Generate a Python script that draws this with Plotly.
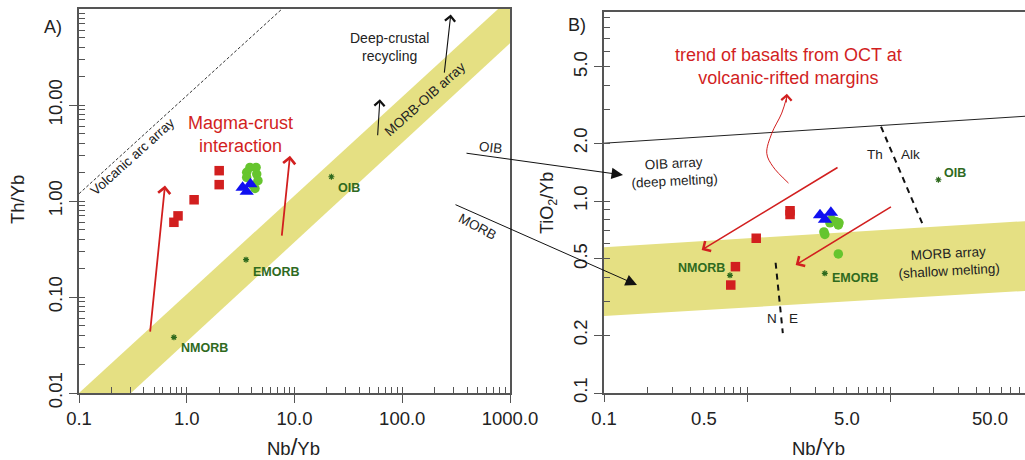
import numpy as np
import plotly.graph_objects as go

# ---------------- data ----------------
# Panel A: Th/Yb vs Nb/Yb
A_SQ_X = [0.76, 0.83, 1.17, 2.0, 2.0]
A_SQ_Y = [0.60, 0.70, 1.03, 1.48, 2.07]
A_TRI_X = [3.3, 3.9, 3.6]
A_TRI_Y = [1.38, 1.50, 1.25]
A_CIR_X = [3.86, 4.40, 3.60, 4.46, 4.58, 4.12, 3.60, 4.30]
A_CIR_Y = [2.24, 2.24, 1.99, 1.91, 1.63, 1.45, 1.76, 1.35]
A_REF_NAMES = ["NMORB", "EMORB", "OIB"]
A_REF_X = [0.76, 3.55, 22.0]
A_REF_Y = [0.038, 0.245, 1.79]
A_BAND_X = [0.1, 775, 1000, 1000, 0.304, 0.1]
A_BAND_Y = [0.01, 100, 100, 44, 0.01, 0.01]
A_ARC_X = [0.1, 7.65]
A_ARC_Y = [1.19, 100]

# Panel B: TiO2/Yb vs Nb/Yb
B_SQ_X = [0.77, 0.83, 1.16, 2.0, 2.0]
B_SQ_Y = [0.365, 0.455, 0.64, 0.85, 0.89]
B_TRI_X = [3.24, 3.86, 3.51]
B_TRI_Y = [0.845, 0.87, 0.80]
B_CIR_X = [3.90, 4.35, 4.40, 3.80, 3.45, 3.50, 4.20, 4.35]
B_CIR_Y = [0.80, 0.75, 0.77, 0.77, 0.69, 0.67, 0.78, 0.53]
B_REF_NAMES = ["NMORB", "EMORB", "OIB"]
B_REF_X = [0.76, 3.5, 21.8]
B_REF_Y = [0.41, 0.42, 1.29]
B_BAND_X = [0.1, 100, 100, 0.1, 0.1]
B_BAND_Y = [0.575, 0.79, 0.342, 0.252, 0.575]
B_OIBLINE_X = [0.1, 100]
B_OIBLINE_Y = [2.0, 2.78]
B_THALK_X = [8.65, 17.3]
B_THALK_Y = [2.44, 0.726]
B_NE_X = [1.585, 1.78]
B_NE_Y = [0.477, 0.205]
B_CURVE_X = [1.95, 1.52, 1.375, 1.49, 1.75, 1.90]
B_CURVE_Y = [1.24, 1.51, 1.77, 2.25, 2.87, 3.50]

# ticks
A_X_TICKS = [0.1, 1, 10, 100, 1000]
A_X_TEXT = ["0.1", "1.0", "10.0", "100.0", "1000.0"]
A_Y_TICKS = [0.01, 0.1, 1, 10]
A_Y_TEXT = ["0.01", "0.10", "1.00", "10.00"]
B_X_LABELS = [0.1, 0.5, 5, 50]
B_X_TEXT = ["0.1", "0.5", "5.0", "50.0"]
B_X_MAJOR = [0.1, 1, 10]
B_Y_TICKS = [0.1, 0.2, 0.5, 1, 2, 5]
B_Y_TEXT = ["0.1", "0.2", "0.5", "1.0", "2.0", "5.0"]


def all_ticks(lo_exp, hi_exp):
    out = []
    for e in range(lo_exp, hi_exp):
        for m in range(1, 10):
            out.append(m * 10.0 ** e)
    out.append(10.0 ** hi_exp)
    return out


RED = "#d21f1f"
BLUE = "#1010f0"
GREEN = "#66c52e"
DKGREEN = "#2f6a1e"
BAND = "#e5e083"
AXC = "#555555"
FONT = "Liberation Sans, Arial, sans-serif"

fig = go.Figure()

# ---- Panel A ----
fig.add_trace(go.Scatter(x=A_BAND_X, y=A_BAND_Y, fill="toself", fillcolor=BAND,
                         line=dict(width=0), mode="lines", hoverinfo="skip",
                         xaxis="x", yaxis="y"))
fig.add_trace(go.Scatter(x=A_ARC_X, y=A_ARC_Y, mode="lines",
                         line=dict(color="#333333", width=1, dash="3px,2px"),
                         xaxis="x", yaxis="y"))
fig.add_trace(go.Scatter(x=A_SQ_X, y=A_SQ_Y, mode="markers",
                         marker=dict(symbol="square", size=9.5, color=RED),
                         xaxis="x", yaxis="y"))
fig.add_trace(go.Scatter(x=A_CIR_X, y=A_CIR_Y, mode="markers",
                         marker=dict(symbol="circle", size=9.5, color=GREEN),
                         xaxis="x", yaxis="y"))
fig.add_trace(go.Scatter(x=A_TRI_X, y=A_TRI_Y, mode="markers",
                         marker=dict(symbol="triangle-up", size=12.5, color=BLUE),
                         xaxis="x", yaxis="y"))
fig.add_trace(go.Scatter(x=A_REF_X, y=A_REF_Y, mode="markers",
                         marker=dict(symbol="asterisk", size=5,
                                     line=dict(color=DKGREEN, width=1.2)),
                         xaxis="x", yaxis="y"))

# ---- Panel B ----
fig.add_trace(go.Scatter(x=B_BAND_X, y=B_BAND_Y, fill="toself", fillcolor=BAND,
                         line=dict(width=0), mode="lines", hoverinfo="skip",
                         xaxis="x2", yaxis="y2"))
fig.add_trace(go.Scatter(x=B_OIBLINE_X, y=B_OIBLINE_Y, mode="lines",
                         line=dict(color="#222222", width=1),
                         xaxis="x2", yaxis="y2"))
fig.add_trace(go.Scatter(x=B_THALK_X, y=B_THALK_Y, mode="lines",
                         line=dict(color="#111111", width=2, dash="6px,5px"),
                         xaxis="x2", yaxis="y2"))
fig.add_trace(go.Scatter(x=B_NE_X, y=B_NE_Y, mode="lines",
                         line=dict(color="#111111", width=2, dash="6px,5px"),
                         xaxis="x2", yaxis="y2"))
fig.add_trace(go.Scatter(x=B_CURVE_X, y=B_CURVE_Y, mode="lines",
                         line=dict(color=RED, width=1, shape="spline"),
                         xaxis="x2", yaxis="y2"))
fig.add_trace(go.Scatter(x=B_SQ_X, y=B_SQ_Y, mode="markers",
                         marker=dict(symbol="square", size=9.5, color=RED),
                         xaxis="x2", yaxis="y2"))
fig.add_trace(go.Scatter(x=B_CIR_X, y=B_CIR_Y, mode="markers",
                         marker=dict(symbol="circle", size=9.5, color=GREEN),
                         xaxis="x2", yaxis="y2"))
fig.add_trace(go.Scatter(x=B_TRI_X, y=B_TRI_Y, mode="markers",
                         marker=dict(symbol="triangle-up", size=12.5, color=BLUE),
                         xaxis="x2", yaxis="y2"))
fig.add_trace(go.Scatter(x=B_REF_X, y=B_REF_Y, mode="markers",
                         marker=dict(symbol="asterisk", size=5,
                                     line=dict(color=DKGREEN, width=1.2)),
                         xaxis="x2", yaxis="y2"))

# invisible traces so that the overlay tick axes are drawn
for xa, ya in [("x3", "y2"), ("x4", "y2"), ("x5", "y"), ("x", "y3"), ("x2", "y4")]:
    fig.add_trace(go.Scatter(x=[1], y=[1], mode="markers", marker=dict(opacity=0),
                             hoverinfo="skip", xaxis=xa, yaxis=ya))

W, H = 1025, 460


def px(x):
    return x / W


def py(y):
    return 1 - y / H


XA_DOM = [px(79), px(510)]
YA_DOM = [py(393), py(9)]
XB_DOM = [px(604), 1.0]
YB_DOM = [py(393), py(11.5)]
XA_RANGE = [-1, 3]
YA_RANGE = [-2, 2]
XB_RANGE = [-1, 1.944]
YB_RANGE = [-1, 0.987]

tickfont = dict(family=FONT, size=18.5, color="#222222")
axis_common = dict(type="log", showgrid=False, zeroline=False, showline=True,
                   linecolor=AXC, linewidth=1.5, ticks="outside", ticklen=8,
                   tickcolor=AXC, tickwidth=1.2, tickfont=tickfont, automargin=False)
overlay_common = dict(type="log", showgrid=False, zeroline=False, showline=False,
                      showticklabels=False, tickmode="array", ticks="inside",
                      ticklen=6, tickcolor=AXC, tickwidth=1, automargin=False)

fig.update_layout(
    width=W, height=H, margin=dict(l=0, r=0, t=0, b=0, autoexpand=False),
    paper_bgcolor="white", plot_bgcolor="white", showlegend=False,
    font=dict(family=FONT, color="#222222"),
    xaxis=dict(axis_common, range=XA_RANGE, domain=XA_DOM, anchor="y",
               mirror=True, tickmode="array", tickvals=A_X_TICKS, ticktext=A_X_TEXT),
    yaxis=dict(axis_common, range=YA_RANGE, domain=YA_DOM, anchor="x",
               mirror=True, tickmode="array", tickvals=A_Y_TICKS, ticktext=A_Y_TEXT,
               tickangle=-90),
    xaxis5=dict(overlay_common, range=XA_RANGE, domain=XA_DOM, anchor="y",
                overlaying="x", side="bottom", tickvals=all_ticks(-1, 3)),
    yaxis3=dict(overlay_common, range=YA_RANGE, domain=YA_DOM, anchor="x",
                overlaying="y", side="left", tickvals=all_ticks(-2, 2)),
    xaxis2=dict(axis_common, range=XB_RANGE, domain=XB_DOM, anchor="y2",
                mirror=True, tickmode="array", tickvals=B_X_LABELS, ticktext=B_X_TEXT,
                tickcolor="rgba(0,0,0,0)"),
    xaxis3=dict(type="log", range=XB_RANGE, domain=XB_DOM, anchor="y2",
                overlaying="x2", side="bottom", showgrid=False, zeroline=False,
                showline=False, showticklabels=False, tickmode="array",
                tickvals=B_X_MAJOR, ticks="outside", ticklen=8, tickcolor=AXC,
                tickwidth=1.2, automargin=False),
    xaxis4=dict(overlay_common, range=XB_RANGE, domain=XB_DOM, anchor="y2",
                overlaying="x2", side="bottom", tickvals=all_ticks(-1, 2)),
    yaxis2=dict(axis_common, range=YB_RANGE, domain=YB_DOM, anchor="x2",
                mirror=False, tickmode="array", tickvals=B_Y_TICKS, ticktext=B_Y_TEXT,
                tickangle=-90),
    yaxis4=dict(overlay_common, range=YB_RANGE, domain=YB_DOM, anchor="x2",
                overlaying="y2", side="left", tickvals=all_ticks(-1, 1)),
)

ann = []


def text(x, y, t, size=13, color="#222222", angle=0, **kw):
    d = dict(x=px(x), y=py(y), xref="paper", yref="paper", text=t, showarrow=False,
             xanchor="center", yanchor="middle",
             textangle=angle, font=dict(family=FONT, size=size, color=color))
    d.update(kw)
    ann.append(d)


# panel letters and axis titles
text(53, 27, "A)", size=18)
text(577, 25, "B)", size=18)
text(18, 200, "Th/Yb", size=18.5, angle=-90)
text(293, 446, "Nb<span style='font-size:24px'>/</span>Yb", size=18.5)
text(818, 446, "Nb<span style='font-size:24px'>/</span>Yb", size=18.5)
text(548, 203, "TiO<sub>2</sub>/Yb", size=18, angle=-90)

# panel A labels
text(133, 157, "Volcanic arc array", size=13.5, angle=-42)
text(240, 134, "Magma-crust<br>interaction", size=18, color=RED)
text(389, 47, "Deep-crustal<br>recycling", size=14)
text(425, 100, "MORB-OIB array", size=13.5, angle=-42)
text(490, 148, "OIB", size=13.5, angle=7)
text(477, 227, "MORB", size=13.5, angle=28)

# panel B labels
text(788, 67, "trend of basalts from OCT at<br>volcanic-rifted margins", size=18, color=RED)
text(674, 172, "OIB array<br>(deep melting)", size=13.5, angle=-3)
text(948, 262, "MORB array<br>(shallow melting)", size=13.5, angle=-3)
text(875, 155, "Th", size=13.5)
text(910, 155, "Alk", size=13.5)
text(772, 318, "N", size=13.5)
text(793, 318, "E", size=13.5)

# reference point labels (data coords, log axes)
A_SHIFT = [(5, -11, "left"), (5, -12, "left"), (5, -11, "left")]
for n, xv, yv, (dx, dy, xa) in zip(A_REF_NAMES, A_REF_X, A_REF_Y, A_SHIFT):
    ann.append(dict(x=np.log10(xv), y=np.log10(yv), xref="x", yref="y",
                    text="<b>" + n + "</b>", showarrow=False, xanchor=xa,
                    yanchor="middle", xshift=dx, yshift=dy,
                    font=dict(family=FONT, size=12.5, color=DKGREEN)))
B_SHIFT = [(-3, 7, "right"), (5, -5, "left"), (4, 7, "left")]
for n, xv, yv, (dx, dy, xa) in zip(B_REF_NAMES, B_REF_X, B_REF_Y, B_SHIFT):
    ann.append(dict(x=np.log10(xv), y=np.log10(yv), xref="x2", yref="y2",
                    text="<b>" + n + "</b>", showarrow=False, xanchor=xa,
                    yanchor="middle", xshift=dx, yshift=dy,
                    font=dict(family=FONT, size=12.5, color=DKGREEN)))


def arrow(xref, yref, tail, head, color, width, head_style, size):
    ann.append(dict(x=np.log10(head[0]), y=np.log10(head[1]),
                    ax=np.log10(tail[0]), ay=np.log10(tail[1]),
                    xref=xref, yref=yref, axref=xref, ayref=yref, text="",
                    showarrow=True, arrowhead=head_style, arrowsize=size,
                    arrowwidth=width, arrowcolor=color))


# panel A arrows
arrow("x", "y", (0.456, 0.042), (0.628, 1.45), RED, 1.8, 4, 1.3)
arrow("x", "y", (7.6, 0.42), (9.08, 2.96), RED, 1.8, 4, 1.3)
arrow("x", "y", (59, 4.67), (62, 11.5), "#111111", 1.1, 4, 1.8)
arrow("x", "y", (245, 21), (282, 87.7), "#111111", 1.1, 4, 1.8)

# panel B arrows
arrow("x2", "y2", (4.40, 1.51), (0.482, 0.556), RED, 1.6, 4, 1.4)
arrow("x2", "y2", (10.4, 0.942), (2.19, 0.464), RED, 1.6, 4, 1.4)
arrow("x2", "y2", (1.88, 3.2), (1.90, 3.62), RED, 1.0, 4, 2.0)

# cross-panel black arrows (paper position of head, pixel offset of tail)
ann.append(dict(x=px(623), y=py(175), xref="paper", yref="paper", ax=465 - 623,
                ay=153 - 175, axref="pixel", ayref="pixel", text="", showarrow=True,
                arrowhead=2, arrowsize=2.3, arrowwidth=1, arrowcolor="#111111"))
ann.append(dict(x=px(637), y=py(285), xref="paper", yref="paper", ax=454 - 637,
                ay=204 - 285, axref="pixel", ayref="pixel", text="", showarrow=True,
                arrowhead=2, arrowsize=2.3, arrowwidth=1, arrowcolor="#111111"))

fig.update_layout(annotations=ann)
fig.write_html("out.html", config={"displayModeBar": False},
               post_script="document.body.style.margin='0';document.body.style.overflow='hidden';")
